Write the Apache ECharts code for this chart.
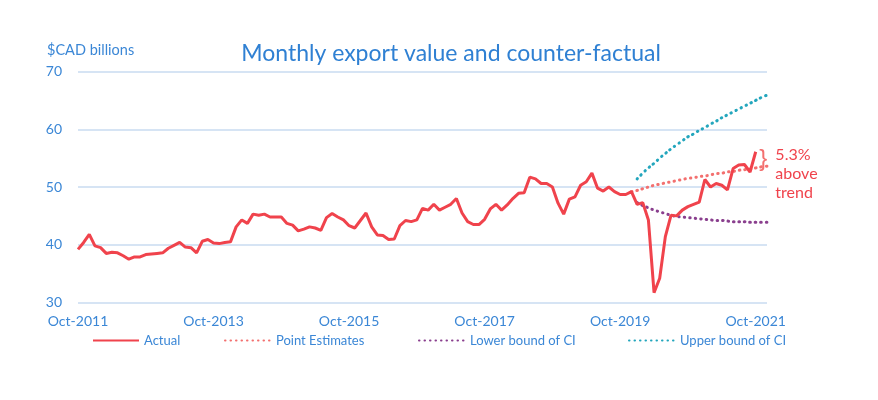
<!DOCTYPE html>
<html>
<head>
<meta charset="utf-8">
<script src="https://cdn.jsdelivr.net/npm/echarts@6/dist/echarts.min.js"></script>
<style>
  html, body { margin: 0; padding: 0; background: #fff; }
  #chart { width: 878px; height: 400px; }
</style>
</head>
<body>
<div id="chart"></div>
<script>
// CATEGORIES: monthly, Oct-2011 .. Dec-2021
const monthNames = ['Jan', 'Feb', 'Mar', 'Apr', 'May', 'Jun', 'Jul', 'Aug', 'Sep', 'Oct', 'Nov', 'Dec'];
const firstYear = 2011;
const firstMonth = 9;     // Oct
const monthCount = 123;

const yTicks = { min: 30, max: 70, step: 10 };

// ACTUAL EXPORT VALUE ($CAD billions), Oct-2011 .. Oct-2021
const actual = [
    39.2, 40.4, 41.8, 39.8, 39.5, 38.5, 38.7, 38.6, 38.1, 37.5,
    37.9, 37.9, 38.3, 38.4, 38.5, 38.6, 39.4, 39.9, 40.4, 39.6,
    39.5, 38.6, 40.6, 40.9, 40.3, 40.2, 40.4, 40.5, 43.1, 44.3,
    43.7, 45.3, 45.1, 45.3, 44.8, 44.8, 44.8, 43.7, 43.4, 42.4,
    42.7, 43.1, 42.9, 42.5, 44.7, 45.4, 44.8, 44.3, 43.3, 42.9,
    44.2, 45.5, 43.1, 41.7, 41.6, 40.9, 41.0, 43.3, 44.2, 44.0,
    44.3, 46.3, 46.0, 47.0, 46.0, 46.5, 47.0, 48.0, 45.5, 44.0,
    43.5, 43.5, 44.4, 46.2, 47.0, 46.0, 46.9, 48.0, 48.9, 49.0,
    51.7, 51.4, 50.6, 50.6, 50.0, 47.2, 45.3, 47.9, 48.3, 50.3,
    50.9, 52.4, 49.8, 49.3, 50.0, 49.2, 48.7, 48.7, 49.2, 47.0,
    47.3, 44.3, 31.7, 34.2, 41.4, 45.1, 45.0, 46.0, 46.6, 47.0,
    47.4, 51.3, 50.0, 50.6, 50.3, 49.5, 53.2, 53.8, 53.9, 52.6,
    56.1
];

// COUNTER-FACTUAL, starting at month index 98 (Dec-2019)
const pointStart = 98;
const pointEstimates = [
    49.2, 49.4, 49.7, 50.0, 50.3, 50.5, 50.7, 50.9, 51.1, 51.3,
    51.5, 51.6, 51.8, 51.9, 52.1, 52.3, 52.4, 52.6, 52.7, 52.9,
    53.0, 53.1, 53.3, 53.5, 53.6
];

// CONFIDENCE BOUNDS, starting at month index 99 (Jan-2020)
const boundStart = 99;
const lowerBound = [
    47.3, 46.8, 46.4, 46.0, 45.7, 45.4, 45.1, 44.9, 44.8, 44.7,
    44.6, 44.5, 44.4, 44.3, 44.2, 44.2, 44.1, 44.0, 44.0, 44.0,
    43.9, 43.9, 43.9, 43.9
];
const upperBound = [
    51.4, 52.4, 53.3, 54.1, 55.0, 55.8, 56.6, 57.3, 58.0, 58.7,
    59.2, 59.8, 60.3, 60.9, 61.4, 62.0, 62.5, 63.0, 63.5, 64.0,
    64.5, 65.0, 65.5, 65.9
];

const aboveTrendText = ['5.3%', 'above', 'trend'];

const months = [];
for (let i = 0; i < monthCount; i++) {
    const m = (firstMonth + i) % 12;
    const y = firstYear + Math.floor((firstMonth + i) / 12);
    months.push(`${monthNames[m]}-${y}`);
}

const withOffset = (values, start) => values.map((v, i) => [start + i, v]);

const blueText = '#3b87d6';
const font = 'Lato, "Open Sans", sans-serif';
const dots = [0.5, 5];

const chartPlaceholder = document.querySelector('#chart');
const chart = echarts.init(chartPlaceholder);

const legendBase = {
    top: 329,
    itemWidth: 46,
    itemHeight: 12,
    itemGap: 6,
    itemStyle: { opacity: 0 },
    textStyle: { color: blueText, fontSize: 13, fontFamily: font }
};

const option = {
    animation: false,
    title: {
        text: 'Monthly export value and counter-factual',
        left: 446,
        textAlign: 'center',
        top: 37,
        textStyle: { color: '#2f80d3', fontSize: 23, fontWeight: 'normal', fontFamily: font }
    },
    legend: [
        Object.assign({ left: 87, data: ['Actual'] }, legendBase),
        Object.assign({ left: 219, data: ['Point Estimates'] }, legendBase),
        Object.assign({ left: 413, data: ['Lower bound of CI'] }, legendBase),
        Object.assign({ left: 623, data: ['Upper bound of CI'] }, legendBase)
    ],
    grid: { left: 78, right: 111, top: 71.5, bottom: 97.5, containLabel: false },
    xAxis: {
        type: 'category',
        data: months,
        boundaryGap: false,
        axisLine: { show: false },
        axisTick: { show: false },
        axisLabel: {
            interval: (i) => i % 24 === 0,
            color: blueText,
            fontSize: 14,
            fontFamily: font,
            margin: 12
        },
        splitLine: { show: false }
    },
    yAxis: {
        type: 'value',
        min: yTicks.min,
        max: yTicks.max,
        interval: yTicks.step,
        name: '$CAD billions',
        nameLocation: 'end',
        nameGap: 14,
        nameTextStyle: { color: blueText, fontSize: 14.5, fontFamily: font, align: 'left', padding: [0, 0, 0, -31] },
        axisLine: { show: false },
        axisTick: { show: false },
        axisLabel: { color: blueText, fontSize: 14, fontFamily: font, margin: 16 },
        splitLine: { lineStyle: { color: '#c8dbf0', width: 1.5 } }
    },
    series: [
        {
            name: 'Actual',
            type: 'line',
            data: actual,
            symbol: 'none',
            z: 5,
            lineStyle: { color: '#f0434c', width: 3 },
            itemStyle: { color: '#f0434c' }
        },
        {
            name: 'Point Estimates',
            type: 'line',
            data: withOffset(pointEstimates, pointStart),
            symbol: 'none',
            smooth: true,
            lineStyle: { color: '#f3706f', width: 3, type: dots, cap: 'round' },
            itemStyle: { color: '#f3706f' }
        },
        {
            name: 'Lower bound of CI',
            type: 'line',
            data: withOffset(lowerBound, boundStart),
            symbol: 'none',
            smooth: true,
            lineStyle: { color: '#8a3f8e', width: 3, type: dots, cap: 'round' },
            itemStyle: { color: '#8a3f8e' }
        },
        {
            name: 'Upper bound of CI',
            type: 'line',
            data: withOffset(upperBound, boundStart),
            symbol: 'none',
            smooth: true,
            lineStyle: { color: '#23a6bd', width: 3, type: dots, cap: 'round' },
            itemStyle: { color: '#23a6bd' }
        }
    ]
};

chart.setOption(option);

// ANNOTATION: bracket between last actual value and trend, placed through the axes
const lastIndex = actual.length - 1;
const topPx = chart.convertToPixel({ gridIndex: 0 }, [lastIndex + 1, actual[lastIndex]]);
const botPx = chart.convertToPixel({ gridIndex: 0 }, [lastIndex + 1, pointEstimates[lastIndex - pointStart]]);

chart.setOption({
    graphic: [
        {
            type: 'text',
            x: topPx[0] - 2,
            y: (topPx[1] + botPx[1]) / 2,
            style: {
                text: '}',
                fill: '#f3706f',
                font: `${Math.round(botPx[1] - topPx[1] + 8)}px "Liberation Sans", sans-serif`,
                verticalAlign: 'middle'
            }
        },
        {
            type: 'text',
            x: topPx[0] + 14,
            y: topPx[1] - 6,
            style: {
                text: aboveTrendText.join('\n'),
                fill: '#f0434c',
                font: `16px ${font}`,
                lineHeight: 19
            }
        }
    ]
});
</script>
</body>
</html>
